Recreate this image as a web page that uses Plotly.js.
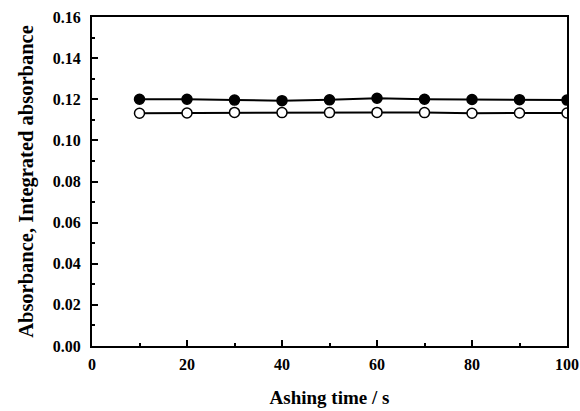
<!DOCTYPE html>
<html><head><meta charset="utf-8">
<script src="https://cdn.plot.ly/plotly-3.0.1.min.js"></script>
<style>html,body{margin:0;padding:0;background:#fff}#c{width:580px;height:411px}</style>
</head><body><div id="c"></div>
<script>
var ashingTime = [10, 20, 30, 40, 50, 60, 70, 80, 90, 100];
var absorbance = [0.1200, 0.1200, 0.1196, 0.1193, 0.1197, 0.1205, 0.1200, 0.1199, 0.1198, 0.1196];
var integratedAbsorbance = [0.1132, 0.1133, 0.1136, 0.1135, 0.1135, 0.1136, 0.1135, 0.1132, 0.1133, 0.1133];

var fam = '"Liberation Serif", "Times New Roman", serif';
var traces = [
  {x: ashingTime, y: absorbance, mode: 'lines+markers', type: 'scatter',
   line: {color: '#000', width: 2},
   marker: {symbol: 'circle', size: 10, color: '#000', line: {color: '#000', width: 1.5}}},
  {x: ashingTime, y: integratedAbsorbance, mode: 'lines+markers', type: 'scatter',
   line: {color: '#000', width: 2},
   marker: {symbol: 'circle', size: 10, color: '#fff', line: {color: '#000', width: 1.5}}}
];
var tickFont = {family: fam, size: 16, weight: 'bold', color: '#000'};
var axisCommon = {
  showline: true, linecolor: '#000', linewidth: 2, mirror: true,
  showgrid: false, zeroline: false, ticks: 'inside', ticklen: 6, tickwidth: 2, tickcolor: '#000',
  tickfont: tickFont
};
var layout = {
  width: 580, height: 411, showlegend: false,
  paper_bgcolor: '#fff', plot_bgcolor: '#fff',
  margin: {l: 92, r: 13, t: 17, b: 65},
  xaxis: Object.assign({}, axisCommon, {
    range: [0, 100], dtick: 20, tick0: 0, ticklabelstandoff: 3,
    minor: {dtick: 10, ticks: 'inside', ticklen: 3, tickwidth: 2, tickcolor: '#000', showgrid: false},
    title: {text: 'Ashing time / s', font: {family: fam, size: 19, weight: 'bold', color: '#000'}, standoff: 18}
  }),
  yaxis: Object.assign({}, axisCommon, {
    range: [0, 0.16], dtick: 0.02, tick0: 0, tickformat: '.2f', ticklabelstandoff: 6,
    minor: {dtick: 0.01, ticks: 'inside', ticklen: 3, tickwidth: 2, tickcolor: '#000', showgrid: false},
    title: {text: 'Absorbance, Integrated absorbance', font: {family: fam, size: 20.5, weight: 'bold', color: '#000'}, standoff: 14}
  })
};
Plotly.newPlot('c', traces, layout, {displayModeBar: false, staticPlot: true});
</script></body></html>
